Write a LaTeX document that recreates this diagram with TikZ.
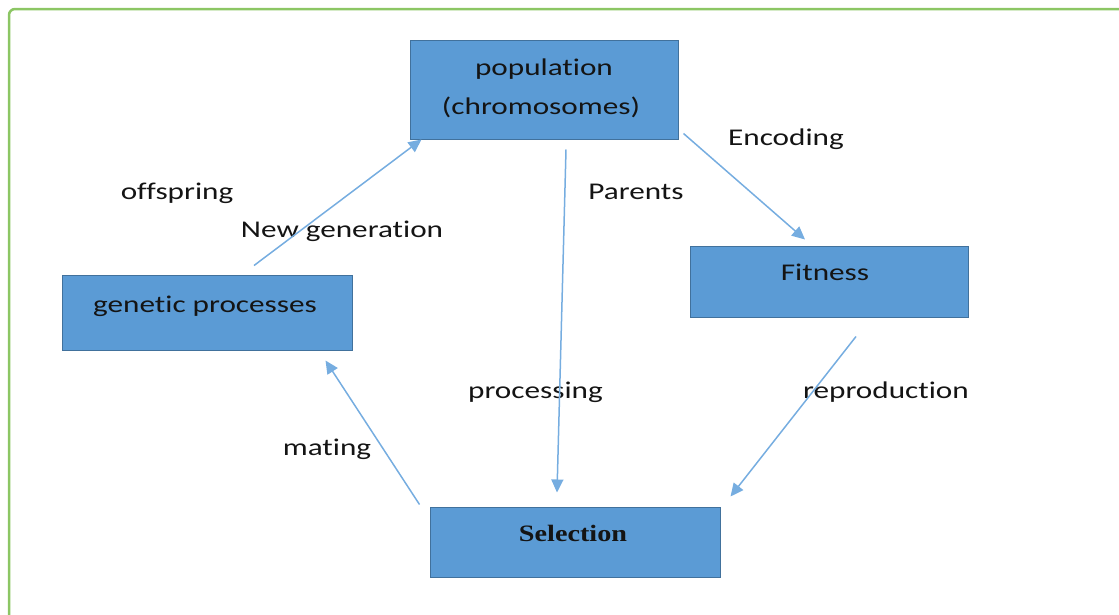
\documentclass[tikz,border=0pt]{standalone}
\usepackage{fontspec}
\setmainfont{Carlito}[FakeStretch=1.3, Ligatures={NoCommon}, RawFeature={-liga;-clig;-dlig}]
\newfontfamily\selfont{Liberation Serif}[FakeStretch=1.2]
\usetikzlibrary{arrows.meta}
\definecolor{boxfill}{RGB}{91,155,213}
\definecolor{boxedge}{RGB}{65,113,156}
\definecolor{arrowc}{RGB}{118,173,224}
\definecolor{frameg}{RGB}{140,198,100}
\definecolor{txt}{RGB}{20,20,20}
\begin{document}
\begin{tikzpicture}[x=1pt,y=-1pt,
  box/.style={draw=boxedge, fill=boxfill, line width=1pt, inner sep=0pt, rectangle},
  lbl/.style={anchor=base, inner sep=0pt, text=txt, font=\fontsize{24}{28}\selectfont},
  conn/.style={draw=arrowc, line width=1.5pt, -{Triangle[length=13pt,width=12pt]}}]
\useasboundingbox (0,0) rectangle (1119,614);
\draw[frameg, line width=2.5pt, rounded corners=6pt] (9,640) -- (9,9) -- (1150,9);
% boxes
\node[box, minimum width=268pt, minimum height=99pt] (pop) at (544,89.5) {};
\node[box, minimum width=278pt, minimum height=71pt] (fit) at (829,281.5) {};
\node[box, minimum width=290pt, minimum height=75pt] (gen) at (207,312.5) {};
\node[box, minimum width=290pt, minimum height=70pt] (sel) at (575,542) {};
% box texts
\node[lbl] (popt1) at (544,75) {population};
\node[lbl] (popt2) at (541,114) {(chromosomes)};
\node[lbl] (fitt) at (825,280) {Fitness};
\node[lbl] (gent) at (205,312) {genetic processes};
\node[lbl, font=\selfont\bfseries\fontsize{23.5}{27}\selectfont] (selt) at (573,541) {Selection};
% labels
\node[lbl] (l1) at (177,199) {offspring};
\node[lbl] (l2) at (342,237) {New generation};
\node[lbl] (l3) at (636,199) {Parents};
\node[lbl] (l4) at (786,145) {Encoding};
\node[lbl] (l5) at (535.5,398) {processing};
\node[lbl] (l6) at (886,398) {reproduction};
\node[lbl] (l7) at (327,455) {mating};
% connector end points
\coordinate (a1) at ([shift={(47,-9)}]gen.north);
\coordinate (a2) at ([shift={(12,0)}]pop.south west);
\coordinate (b1) at ([shift={(22,10)}]pop.south);
\coordinate (b2) at ([shift={(-18,-14)}]sel.north);
\coordinate (c1) at ([shift={(5,-6)}]pop.south east);
\coordinate (c2) at ([shift={(-24,-6)}]fit.north);
\coordinate (d1) at ([shift={(27,19)}]fit.south);
\coordinate (d2) at ([shift={(10,-10)}]sel.north east);
\coordinate (e1) at ([shift={(-10,-2)}]sel.north west);
\coordinate (e2) at ([shift={(-27,10)}]gen.south east);
\draw[conn] (a1) -- (a2);
\draw[conn] (b1) -- (b2);
\draw[conn] (c1) -- (c2);
\draw[conn] (d1) -- (d2);
\draw[conn] (e1) -- (e2);
\end{tikzpicture}
\end{document}
